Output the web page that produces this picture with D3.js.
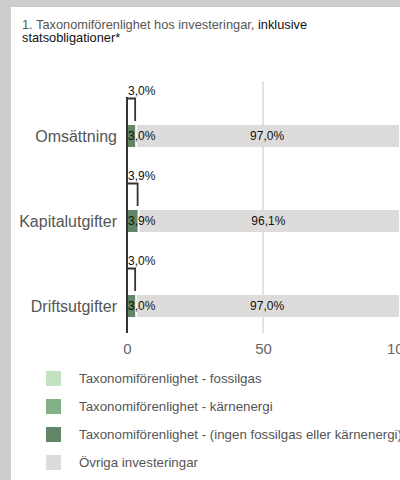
<!DOCTYPE html>
<html>
<head>
<meta charset="utf-8">
<script src="https://cdn.jsdelivr.net/npm/d3@7"></script>
<style>
  body { margin: 0; background: #cccccc; }
  svg { display: block; font-family: "Liberation Sans", Arial, sans-serif; }
</style>
</head>
<body>
<svg id="chart"></svg>
<script>
const categories = ['Omsättning', 'Kapitalutgifter', 'Driftsutgifter'];
const fossilgas = [0, 0, 0];
const karnenergi = [0, 0, 0];
const ingen = [3.0, 3.9, 3.0];
const ovriga = [97.0, 96.1, 97.0];
const totalAligned = [3.0, 3.9, 3.0];
const xTicks = [0, 50, 100];
const legendLabels = [
  'Taxonomiförenlighet - fossilgas',
  'Taxonomiförenlighet - kärnenergi',
  'Taxonomiförenlighet - (ingen fossilgas eller kärnenergi)',
  'Övriga investeringar'
];
const colors = ['#c2e2c2', '#82b088', '#628668', '#dedcda'];

const width = 400, height = 480;
const fmt = v => d3.format('.1f')(v).replace('.', ',') + '%';

const svg = d3.select('#chart')
  .attr('width', width)
  .attr('height', height);

// white panel
svg.append('rect')
  .attr('x', 11).attr('y', 7)
  .attr('width', width - 11).attr('height', height - 7)
  .attr('fill', '#fff');

// title
const title = svg.append('text')
  .attr('x', 22).attr('y', 29)
  .style('font-size', '12.8px');
title.append('tspan').attr('fill', '#555').text('1. Taxonomiförenlighet hos investeringar, ');
title.append('tspan').attr('fill', '#111').text('inklusive');
svg.append('text')
  .attr('x', 22).attr('y', 42)
  .style('font-size', '12.8px')
  .attr('fill', '#111')
  .text('statsobligationer*');

const x = d3.scaleLinear().domain([0, 100]).range([127, 399]);
const y = d3.scaleBand().domain(categories).range([83, 338]);

const rows = categories.map((c, i) => {
  const segs = [fossilgas[i], karnenergi[i], ingen[i], ovriga[i]];
  let start = 0;
  return {
    cat: c,
    total: totalAligned[i],
    segs: segs.map((v, k) => {
      const s = {start: start, value: v, color: colors[k], k: k};
      start += v;
      return s;
    }).filter(s => s.value > 0)
  };
});

// gridlines
svg.selectAll('.grid')
  .data(xTicks.filter(t => t > 0 && t < 100))
  .enter().append('line')
  .attr('class', 'grid')
  .attr('x1', d => x(d)).attr('x2', d => x(d))
  .attr('y1', 81).attr('y2', 333)
  .attr('stroke', '#e2e2e2')
  .attr('stroke-width', 2);

const row = svg.selectAll('.row')
  .data(rows)
  .enter().append('g')
  .attr('class', 'row')
  .attr('transform', d => `translate(0,${y(d.cat)})`);

// stacked bars
row.selectAll('rect.seg')
  .data(d => d.segs)
  .enter().append('rect')
  .attr('class', 'seg')
  .attr('x', d => x(d.start) + (d.start > 0 ? 2 : 1))
  .attr('width', d => x(d.start + d.value) - x(d.start) - (d.start > 0 ? 2 : 1))
  .attr('y', 42)
  .attr('height', 22)
  .attr('fill', d => d.color);

// bracket for total aligned
row.append('path')
  .attr('d', d => `M${x(0)},38V15.5H${x(d.total)}V38`)
  .attr('fill', 'none')
  .attr('stroke', '#333')
  .attr('stroke-width', 1.8);

row.append('text')
  .attr('x', x(0) + 1)
  .attr('y', 12)
  .attr('fill', '#111')
  .style('font-size', '12px')
  .text(d => fmt(d.total));

// segment labels
row.selectAll('text.seglabel')
  .data(d => d.segs)
  .enter().append('text')
  .attr('class', 'seglabel')
  .attr('x', d => d.k === 3 ? (x(d.start) + x(d.start + d.value)) / 2 : x(d.start) + 1)
  .attr('text-anchor', d => d.k === 3 ? 'middle' : 'start')
  .attr('y', 57)
  .attr('fill', '#111')
  .style('font-size', '12px')
  .text(d => fmt(d.value));

// category labels
row.append('text')
  .attr('x', 117)
  .attr('y', 59)
  .attr('text-anchor', 'end')
  .attr('fill', '#555')
  .style('font-size', '16px')
  .text(d => d.cat);

// zero axis line
svg.append('line')
  .attr('x1', x(0)).attr('x2', x(0))
  .attr('y1', 97).attr('y2', 333)
  .attr('stroke', '#333')
  .attr('stroke-width', 2);

// x axis labels
const xAxis = svg.append('g')
  .attr('transform', 'translate(0,333)')
  .call(d3.axisBottom(x).tickValues(xTicks).tickSize(0).tickPadding(10));
xAxis.select('.domain').remove();
xAxis.selectAll('text')
  .attr('fill', '#666')
  .style('font-size', '15px')
  .style('font-family', '"Liberation Sans", Arial, sans-serif');

// legend
const legend = svg.selectAll('.legend')
  .data(legendLabels)
  .enter().append('g')
  .attr('class', 'legend')
  .attr('transform', (d, i) => `translate(46,${371 + i * 28})`);

legend.append('rect')
  .attr('width', 15).attr('height', 15)
  .attr('fill', (d, i) => colors[i]);

legend.append('text')
  .attr('x', 33).attr('y', 12)
  .attr('fill', '#555')
  .style('font-size', '13.3px')
  .text(d => d);
</script>
</body>
</html>
